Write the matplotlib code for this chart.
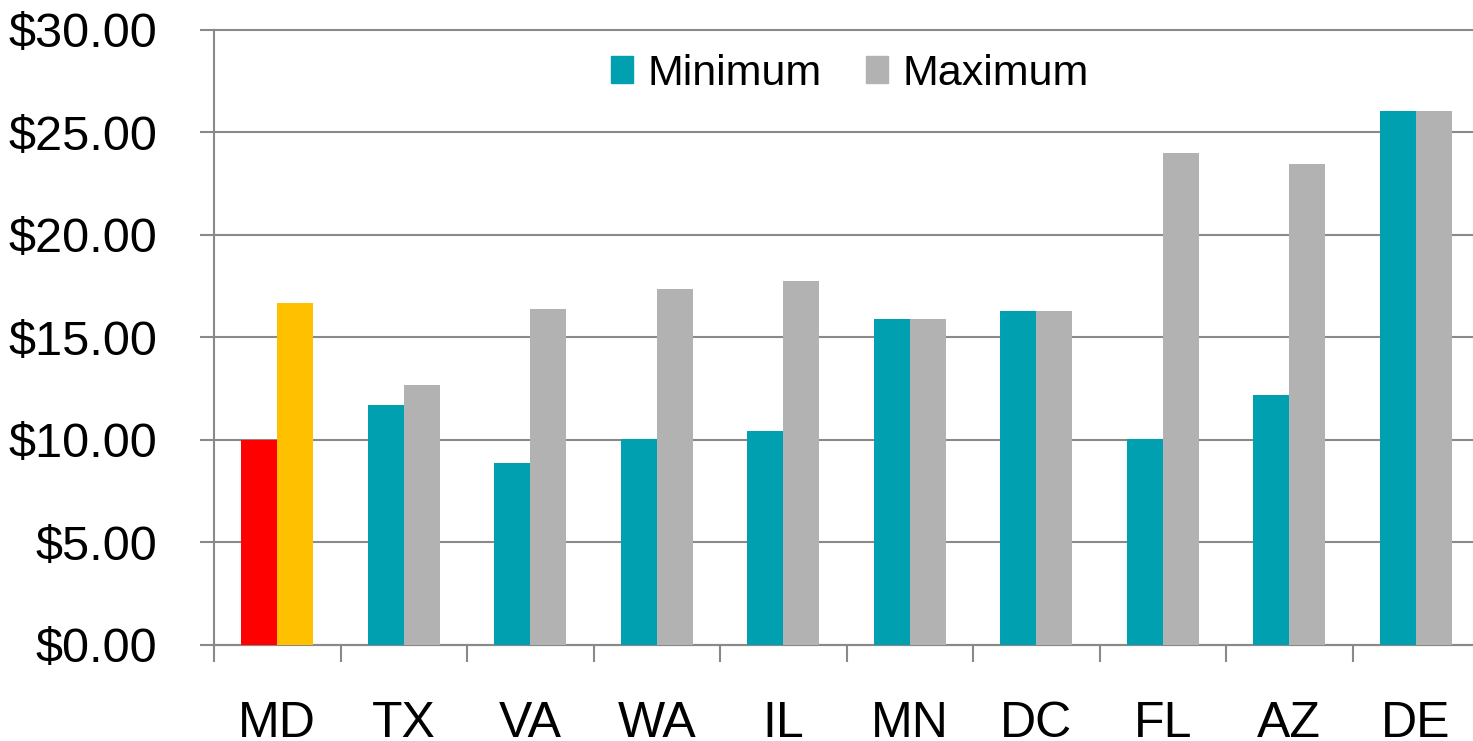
import matplotlib.pyplot as plt
import numpy as np
from matplotlib.patches import Patch

states = ["MD", "TX", "VA", "WA", "IL", "MN", "DC", "FL", "AZ", "DE"]
minimum = [10.00, 11.70, 8.88, 10.05, 10.44, 15.90, 16.29, 10.05, 12.20, 26.05]
maximum = [16.68, 12.68, 16.39, 17.37, 17.76, 15.90, 16.29, 24.00, 23.46, 26.05]

teal = "#00A0B0"
gray = "#B2B2B2"
min_colors = ["#FF0000"] + [teal] * 9
max_colors = ["#FFC000"] + [gray] * 9
axis_gray = "#898989"

plt.rcParams["font.family"] = ["Liberation Sans", "DejaVu Sans"]

fig = plt.figure(figsize=(14.73, 7.41), dpi=100)
ax = fig.add_axes([0.1453, 0.1296, 0.8588, 0.8300])

x = np.arange(len(states))
w = 0.285
ax.bar(x - w / 2, minimum, w, color=min_colors, zorder=3)
ax.bar(x + w / 2, maximum, w, color=max_colors, zorder=3)

ax.set_xlim(-0.5, len(states) - 0.5)
ax.set_ylim(0, 30)
ax.set_yticks(np.arange(0, 31, 5))
ax.set_yticklabels(["$%.2f" % v for v in np.arange(0, 31, 5)])

ax.set_xticks(x)
ax.set_xticklabels(states)
ax.set_xticks(np.arange(-0.5, len(states), 1), minor=True)

ax.tick_params(axis="y", labelsize=35, length=10, width=1.5, color=axis_gray, pad=31)
ax.tick_params(axis="x", which="major", labelsize=36, length=0, pad=40)
ax.tick_params(axis="x", which="minor", length=12, width=1.5, color=axis_gray)

ax.grid(True, axis="y", color=axis_gray, linewidth=1.5, clip_on=False)
ax.set_axisbelow(True)
for s in ["top", "right"]:
    ax.spines[s].set_visible(False)
for s in ["left", "bottom"]:
    ax.spines[s].set_color(axis_gray)
    ax.spines[s].set_linewidth(1.5)

handles = [Patch(color=teal), Patch(color=gray)]
fig.legend(handles, ["Minimum", "Maximum"], loc="center", bbox_to_anchor=(0.577, 0.9005),
           ncol=2, frameon=False, fontsize=31, handlelength=0.5, handleheight=0.6,
           handletextpad=0.33, columnspacing=1.05, borderpad=0)

fig.savefig("out.png", dpi=100)
